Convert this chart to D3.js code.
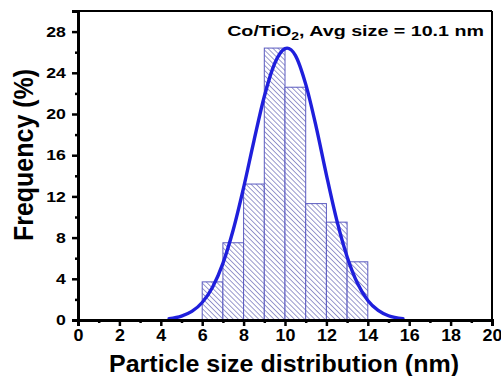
<!DOCTYPE html>
<html><head><meta charset="utf-8">
<script src="https://cdn.jsdelivr.net/npm/d3@7"></script>
<style>body{margin:0;background:#fff}svg{display:block;font-family:"Liberation Sans",Arial,sans-serif}</style>
</head><body><svg id="c" width="501" height="376"></svg>
<script>
const binStarts = [6, 7, 8, 9, 10, 11, 12, 13];
const binWidth = 1;
const frequency = [3.7, 7.5, 13.2, 26.4, 22.6, 11.3, 9.5, 5.65];
const fitX = [4.4, 5, 5.5, 6, 6.5, 7, 7.5, 8, 8.5, 9, 9.5, 10, 10.1, 10.5, 11, 11.5, 12, 12.5, 13, 13.5, 14, 14.5, 15, 15.7];
const fitY = [0.13, 0.38, 0.83, 1.7, 3.18, 5.5, 8.76, 12.85, 17.4, 21.7, 24.9, 26.35, 26.4, 25.7, 22.9, 18.8, 14.1, 9.7, 6.15, 3.57, 1.9, 0.93, 0.41, 0.12];
const xTicks = [0, 2, 4, 6, 8, 10, 12, 14, 16, 18, 20];
const yTicks = [0, 4, 8, 12, 16, 20, 24, 28];
const xTitle = "Particle size distribution (nm)";
const yTitle = "Frequency (%)";

const svg = d3.select("#c");
const L = 78, R = 492, T = 11, B = 320;
const x = d3.scaleLinear().domain([0, 20]).range([L, R]);
const y = d3.scaleLinear().domain([0, 30]).range([B, T]);

const defs = svg.append("defs");
const pat = defs.append("pattern").attr("id", "hatch").attr("patternUnits", "userSpaceOnUse")
  .attr("width", 3.6).attr("height", 3.6).attr("patternTransform", "rotate(-45)");
pat.append("rect").attr("width", 3.6).attr("height", 3.6).attr("fill", "#fff");
pat.append("line").attr("x1", 0).attr("y1", 0).attr("x2", 0).attr("y2", 3.6)
  .attr("stroke", "#4848a6").attr("stroke-width", 1.1);

// bars
svg.append("g").selectAll("rect").data(frequency).join("rect")
  .attr("x", (d, i) => x(binStarts[i]))
  .attr("width", (d, i) => x(binStarts[i] + binWidth) - x(binStarts[i]))
  .attr("y", d => y(d))
  .attr("height", d => y(0) - y(d))
  .attr("fill", "url(#hatch)")
  .attr("stroke", "#5a5ac0").attr("stroke-width", 1);

// fit curve
const line = d3.line().x(d => x(d[0])).y(d => y(d[1])).curve(d3.curveMonotoneX);
svg.append("path").datum(fitX.map((v, i) => [v, fitY[i]]))
  .attr("d", line).attr("fill", "none").attr("stroke", "#1f1fdc").attr("stroke-width", 3.4)
  .attr("stroke-linecap", "round");

// frame
svg.append("line").attr("x1", L).attr("x2", R).attr("y1", T).attr("y2", T).attr("stroke", "#000").attr("stroke-width", 2);
svg.append("line").attr("x1", R).attr("x2", R).attr("y1", T).attr("y2", B).attr("stroke", "#000").attr("stroke-width", 2);

// axes
const xAxis = d3.axisBottom(x).tickValues(xTicks).tickSize(6).tickPadding(4).tickFormat(d3.format("d"));
const xMinor = d3.axisBottom(x).tickValues(d3.range(1, 20, 2)).tickSize(3).tickFormat("");
const yAxis = d3.axisLeft(y).tickValues(yTicks).tickSize(6).tickPadding(4).tickFormat(d3.format("d"));
const yMinor = d3.axisLeft(y).tickValues(d3.range(2, 30, 4)).tickSize(3).tickFormat("");

function style(g) {
  g.select(".domain").attr("stroke", "#000").attr("stroke-width", 3);
  g.selectAll(".tick line").attr("stroke", "#000").attr("stroke-width", 2.5);
  g.selectAll("text").attr("font-weight", "bold").attr("fill", "#000")
    .attr("font-family", '"Liberation Sans",Arial,sans-serif');
}
svg.append("g").attr("transform", `translate(0,${B})`).call(xMinor).call(style).select(".domain").remove();
const gx = svg.append("g").attr("transform", `translate(0,${B})`).call(xAxis).call(style);
gx.selectAll("text").attr("font-size", 16).attr("transform", "scale(1.12,1)");
svg.append("g").attr("transform", `translate(${L},0)`).call(yMinor).call(style).select(".domain").remove();
const gy = svg.append("g").attr("transform", `translate(${L},0)`).call(yAxis).call(style);
gy.selectAll("text").attr("font-size", 14.5).attr("transform", "scale(1.22,1)");

// titles
svg.append("text").attr("transform", `translate(${(L + R) / 2 - 1},372) scale(1.087,1)`).attr("text-anchor", "middle")
  .attr("font-size", 23).attr("font-weight", "bold").text(xTitle);
svg.append("text").attr("transform", `translate(33,155) rotate(-90) scale(1,1.12)`).attr("text-anchor", "middle")
  .attr("font-size", 25).attr("font-weight", "bold").text(yTitle);

// legend label
const lt = svg.append("text").attr("transform", "translate(484,36) scale(1.27,1)").attr("text-anchor", "end")
  .attr("font-size", 15.5).attr("font-weight", "bold");
lt.append("tspan").text("Co/TiO");
lt.append("tspan").attr("font-size", 11).attr("dy", 4).text("2");
lt.append("tspan").attr("dy", -4).text(", Avg size = 10.1 nm");
</script></body></html>
